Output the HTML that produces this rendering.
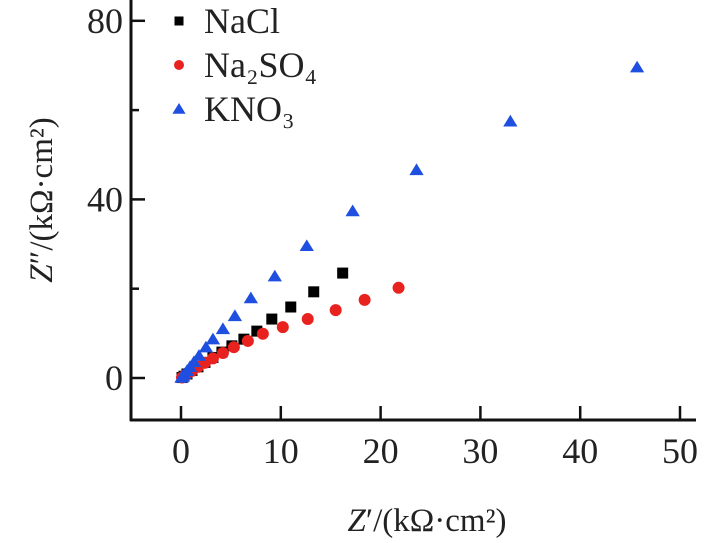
<!DOCTYPE html>
<html><head><meta charset="utf-8"><style>
html,body{margin:0;padding:0;background:#fff;}
svg{display:block;font-family:"Liberation Serif",serif;}
</style></head><body>
<svg id="chart" width="713" height="543" viewBox="0 0 713 543">
<g id="axes"></g>
<g id="marks"></g>
<g id="legend"></g>
<text transform="translate(52,200) rotate(-90)" text-anchor="middle" font-size="33" fill="#222"><tspan font-style="italic">Z</tspan>″/(kΩ·cm²)</text>
<text x="427" y="531" text-anchor="middle" font-size="33" fill="#222"><tspan font-style="italic">Z</tspan>′/(kΩ·cm²)</text>
</svg>
<script>
const xTicks=[0,10,20,30,40,50];
const yTicks=[0,40,80];
const yMinor=[20,60];
const naclX=[16.2,13.3,11.0,9.1,7.6,6.3,5.1,4.1,3.2,2.4,1.7,1.1,0.6,0.3,0.1];
const naclY=[23.5,19.3,15.9,13.2,10.5,8.7,7.2,5.8,4.6,3.5,2.5,1.7,0.9,0.4,0.1];
const na2so4X=[21.8,18.4,15.5,12.7,10.2,8.2,6.7,5.3,4.2,3.2,2.4,1.7,1.1,0.6,0.3,0.1];
const na2so4Y=[20.2,17.5,15.2,13.2,11.4,9.9,8.3,6.9,5.6,4.4,3.4,2.5,1.6,0.9,0.4,0.1];
const kno3X=[45.7,33.0,23.6,17.2,12.6,9.4,7.0,5.4,4.2,3.2,2.5,1.8,1.3,0.9,0.6,0.35,0.15,0.05];
const kno3Y=[69.6,57.5,46.6,37.4,29.6,22.8,17.9,13.9,11.0,8.7,6.9,5.0,3.6,2.5,1.6,0.9,0.4,0.1];
const legendLabels=["NaCl","Na₂SO₄","KNO₃"];

const NS="http://www.w3.org/2000/svg";
const sx=v=>181+v*9.98;
const sy=v=>378-v*4.465;
function mk(tag,attrs,parent){const e=document.createElementNS(NS,tag);for(const k in attrs)e.setAttribute(k,attrs[k]);parent.appendChild(e);return e;}
const axes=document.getElementById('axes');
let l=mk('line',{x1:131,y1:0,x2:131,y2:421,stroke:'#111','stroke-width':3},axes);


l=mk('line',{x1:130,y1:420,x2:696,y2:420,stroke:'#111','stroke-width':3},axes);


xTicks.forEach(v=>{
 const t=mk('line',{x1:sx(v),y1:406,x2:sx(v),y2:420,stroke:'#111','stroke-width':2.5},axes);
 
 
 const tx=mk('text',{x:sx(v),y:463,'text-anchor':'middle','font-size':36,fill:'#222'},axes);
 tx.textContent=v;
 
 
});
yTicks.forEach(v=>{
 const t=mk('line',{x1:131,y1:sy(v),x2:145,y2:sy(v),stroke:'#111','stroke-width':2.5},axes);
 
 
 const tx=mk('text',{x:123,y:sy(v)+12,'text-anchor':'end','font-size':36,fill:'#222'},axes);
 tx.textContent=v;
 
 
});
yMinor.forEach(v=>{
 const t=mk('line',{x1:131,y1:sy(v),x2:139,y2:sy(v),stroke:'#111','stroke-width':2.5},axes);
 
 
});
const marks=document.getElementById('marks');
function square(x,y,p,s){return mk('rect',{x:x-s,y:y-s,width:2*s,height:2*s,fill:'#000'},p);}
function circle(x,y,p,r){return mk('circle',{cx:x,cy:y,r:r,fill:'#e8221e'},p);}
function tri(x,y,p,s){return mk('polygon',{points:`${x},${y-s} ${x-s*1.1},${y+s*0.8} ${x+s*1.1},${y+s*0.8}`,fill:'#1f4fe0'},p);}
naclX.forEach((v,i)=>{const e=square(sx(v),sy(naclY[i]),marks,5.5);
 
 });
na2so4X.forEach((v,i)=>{const e=circle(sx(v),sy(na2so4Y[i]),marks,6);
 
 });
kno3X.forEach((v,i)=>{const e=tri(sx(v),sy(kno3Y[i]),marks,6.5);
 
 });
const lg=document.getElementById('legend');
const ly=[21,65,109];
[square,circle,tri].forEach((f,i)=>{
 const e=f(179,ly[i],lg,i==0?4.5:(i==1?5:6));
 
 
 const t=mk('text',{x:204,y:ly[i]+12,'font-size':36,fill:'#222'},lg);
 t.textContent=legendLabels[i];
 
 
});
</script>
</body></html>
